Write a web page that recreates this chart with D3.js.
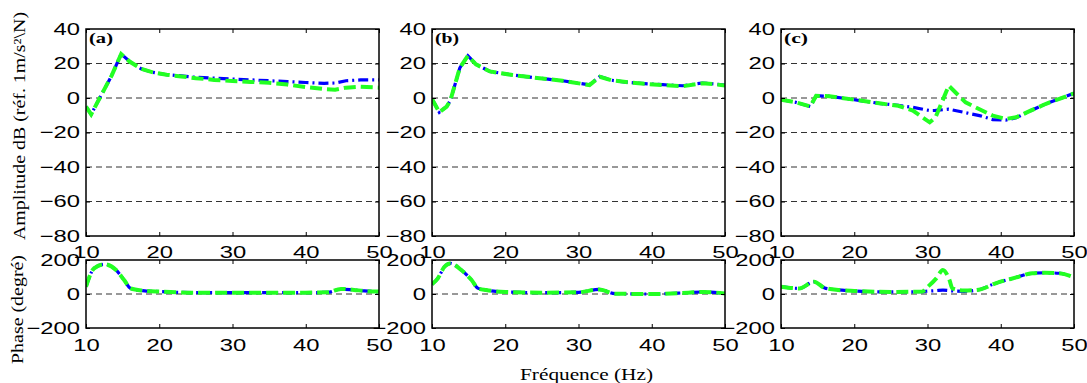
<!DOCTYPE html>
<html><head><meta charset="utf-8">
<script src="https://cdn.jsdelivr.net/npm/d3@7"></script>
<style>
html,body{margin:0;padding:0;background:#fff;}
svg{display:block;}
</style></head>
<body>
<svg id="chart" width="1087" height="383"></svg>
<script>
// ---------- DATA ----------
const panelLabels = ["(a)", "(b)", "(c)"];
const xTicks = [10, 20, 30, 40, 50];
const ampTicks = [40, 20, 0, -20, -40, -60, -80];
const ampGrid = [20, 0, -20, -40, -60];
const phaseTicks = [200, 0, -200];
const phaseGrid = [0];

// Panel (a) amplitude
const freqAmpA = [10, 10.7, 11.5, 12.5, 13.5, 14.8, 16, 17.5, 19, 21, 23, 25, 27.5, 30, 32.5, 35, 37.5, 40, 42.5, 44, 45.5, 47.5, 50];
const ampA_blue = [-5, -9.5, -3, 5, 13, 25.5, 21, 17, 15, 13.5, 12.8, 12, 11.5, 11, 10.5, 10, 9.5, 9, 8.5, 8.7, 10, 10.5, 10.5];
const ampA_green = [-5, -9.5, -3, 5, 13, 25.5, 21, 17, 15, 13.5, 12.5, 11.5, 10.5, 9.8, 9.3, 8.8, 7.8, 6.3, 5.2, 4.8, 6, 6.5, 6];
// Panel (b) amplitude
const freqAmpB = [10, 11, 12, 12.5, 13.8, 14.9, 16, 17.9, 21, 24, 27.8, 31.5, 32.9, 34.5, 36.9, 39, 41.5, 44.2, 46.9, 48.5, 50];
const ampB_blue = [-0.6, -8.3, -5, -1.5, 17.5, 24.5, 19.5, 15.4, 13.3, 11.8, 10, 7.7, 12.5, 10.3, 9, 8.3, 7.7, 7.1, 8.7, 8.2, 7.5];
const ampB_green = [-0.6, -8.3, -5, -1.5, 17.5, 24.5, 19.5, 15.4, 13.3, 11.8, 10, 7.5, 12.3, 10.3, 9, 8.2, 7.5, 6.8, 8.5, 8, 7.2];
// Panel (c) amplitude
const freqAmpC = [10, 12, 14, 14.8, 16.6, 20, 23.4, 26, 28, 30.3, 31.1, 32.9, 35.2, 37.1, 38.9, 40.7, 42.1, 44, 46.1, 48, 50];
const ampC_blue = [-1, -2.5, -4.9, 1.3, 1, -1, -3.1, -4.3, -5.4, -7.3, -7.2, -6.5, -8.5, -10.2, -12.5, -12.8, -11.5, -7.5, -3.5, -0.5, 2.7];
const ampC_green = [-1, -2.5, -4.9, 1.3, 1, -1, -3.1, -4.5, -7.3, -14.1, -11.2, 7.1, -2.5, -6.5, -10.2, -12.1, -11.2, -7.5, -3.5, -0.5, 2.7];

// Panel (a) phase
const freqPhA = [10, 11.1, 12.5, 14.1, 15.2, 16.1, 17.7, 20.2, 25, 30, 35, 40, 43, 44.8, 46.6, 48, 50];
const phA_blue = [43, 151, 175, 141, 82, 33, 20, 14, 8, 8, 8, 8, 10, 29, 23, 18, 12];
const phA_green = [43, 151, 175, 141, 82, 33, 20, 14, 8, 8, 8, 8, 10, 30, 24, 18, 14];
// Panel (b) phase
const freqPhB = [10, 10.8, 11.7, 12.5, 14, 15.4, 16.3, 17.4, 20, 25, 30, 32.8, 35, 40, 45, 47, 50];
const phB_blue = [57, 92, 160, 180, 141, 82, 33, 23, 12, 8, 10, 27, 2, 0, 8, 12, 3];
const phB_green = [57, 92, 160, 180, 141, 82, 33, 23, 12, 8, 10, 27, 2, 0, 8, 12, 3];
// Panel (c) phase
const freqPhC = [10, 12.5, 14.5, 16.1, 20, 25, 29.3, 29.8, 31.2, 32.1, 33, 33.4, 35, 37, 39.3, 42, 44.3, 46, 48, 50];
const phC_blue = [43, 33, 72, 33, 18, 12, 14, 16, 20, 23, 20, 18, 16, 25, 63, 96, 122, 125, 122, 98];
const phC_green = [43, 33, 72, 33, 18, 12, 14, 33, 92, 141, 82, 33, 20, 25, 63, 96, 122, 125, 122, 98];

const ampFreqs = [freqAmpA, freqAmpB, freqAmpC];
const ampBlue = [ampA_blue, ampB_blue, ampC_blue];
const ampGreen = [ampA_green, ampB_green, ampC_green];
const phFreqs = [freqPhA, freqPhB, freqPhC];
const phBlue = [phA_blue, phB_blue, phC_blue];
const phGreen = [phA_green, phB_green, phC_green];

// ---------- LAYOUT ----------
const svg = d3.select("#chart");
svg.append("rect").attr("width", 1087).attr("height", 383).attr("fill", "#fff");
const panelLeft = [86, 432, 781];
const panelW = 293;
const ampTop = 29, ampBottom = 236;
const phTop = 260, phBottom = 328;
const SX = 1.4; // horizontal stretch of tick labels
const tickFont = "'Liberation Sans', Arial, sans-serif";
const serif = "'Liberation Serif', 'Times New Roman', serif";

const yAmp = d3.scaleLinear().domain([-80, 40]).range([ampBottom, ampTop]);
const yPh = d3.scaleLinear().domain([-200, 200]).range([phBottom, phTop]);

const defs = svg.append("defs");

function drawPlot(g, x, y, top, bottom, yTickVals, gridVals, freqs, blue, green, curve, clipId, xLabPad) {
  const left = x.range()[0], right = x.range()[1];
  defs.append("clipPath").attr("id", clipId)
    .append("rect").attr("x", left).attr("y", top).attr("width", right - left).attr("height", bottom - top);

  // grid
  g.selectAll(null).data(gridVals).enter().append("line")
    .attr("x1", left).attr("x2", right)
    .attr("y1", d => y(d)).attr("y2", d => y(d))
    .attr("stroke", "#333").attr("stroke-width", 1).attr("stroke-dasharray", "6,4");

  // lines
  const line = d3.line().x(d => x(d[0])).y(d => y(d[1])).curve(curve);
  const lg = g.append("g").attr("clip-path", `url(#${clipId})`);
  lg.append("path").datum(freqs.map((f, i) => [f, blue[i]]))
    .attr("d", line).attr("fill", "none").attr("stroke", "#0000ff")
    .attr("stroke-width", 3.2).attr("stroke-dasharray", "10,4,2,4");
  lg.append("path").datum(freqs.map((f, i) => [f, green[i]]))
    .attr("d", line).attr("fill", "none").attr("stroke", "#22ff22")
    .attr("stroke-width", 4).attr("stroke-dasharray", "12,5");

  // axes
  const ax = g.append("g").attr("transform", `translate(${left},0)`)
    .call(d3.axisLeft(y).tickValues(yTickVals).tickSize(-4).tickPadding(6).tickFormat(d3.format("d")));
  ax.select(".domain").remove();
  ax.selectAll("line").attr("stroke", "#000");
  ax.selectAll("text").attr("x", -6 / SX).attr("transform", `scale(${SX},1)`)
    .attr("font-family", tickFont).attr("font-size", 17).attr("fill", "#000");

  const axr = g.append("g").attr("transform", `translate(${right},0)`)
    .call(d3.axisRight(y).tickValues(yTickVals).tickSize(-4).tickFormat(""));
  axr.select(".domain").remove();
  axr.selectAll("line").attr("stroke", "#000");

  const axb = g.append("g").attr("transform", `translate(0,${bottom})`)
    .call(d3.axisBottom(x).tickValues(xTicks).tickSize(-4).tickPadding(xLabPad).tickFormat(d3.format("d")));
  axb.select(".domain").remove();
  axb.selectAll("line").attr("stroke", "#000");
  axb.selectAll("text").attr("transform", `scale(${SX},1)`)
    .attr("font-family", tickFont).attr("font-size", 17).attr("fill", "#000");

  const axt = g.append("g").attr("transform", `translate(0,${top})`)
    .call(d3.axisTop(x).tickValues(xTicks).tickSize(-4).tickFormat(""));
  axt.select(".domain").remove();
  axt.selectAll("line").attr("stroke", "#000");

  // frame
  g.append("rect").attr("x", left).attr("y", top).attr("width", right - left).attr("height", bottom - top)
    .attr("fill", "none").attr("stroke", "#000").attr("stroke-width", 1.5);
}

panelLeft.forEach((L, i) => {
  const x = d3.scaleLinear().domain([10, 50]).range([L, L + panelW]);
  const g = svg.append("g");
  drawPlot(g, x, yAmp, ampTop, ampBottom, ampTicks, ampGrid,
    ampFreqs[i], ampBlue[i], ampGreen[i], d3.curveLinear, "clipA" + i, 10);
  drawPlot(g, x, yPh, phTop, phBottom, phaseTicks, phaseGrid,
    phFreqs[i], phBlue[i], phGreen[i], d3.curveMonotoneX, "clipP" + i, 11);

  g.append("text").attr("x", L + 3).attr("y", ampTop + 14)
    .attr("font-family", serif).attr("font-weight", "bold").attr("font-size", 15)
    .attr("textLength", 24).attr("lengthAdjust", "spacingAndGlyphs")
    .text(panelLabels[i]);
});

// axis titles
svg.append("text").attr("transform", "translate(25,126) rotate(-90)")
  .attr("text-anchor", "middle").attr("font-family", serif).attr("font-size", 16)
  .attr("textLength", 228).attr("lengthAdjust", "spacingAndGlyphs")
  .text("Amplitude  dB  (réf. 1m/s²\\N)");
svg.append("text").attr("transform", "translate(23,309.5) rotate(-90)")
  .attr("text-anchor", "middle").attr("font-family", serif).attr("font-size", 16)
  .attr("textLength", 109).attr("lengthAdjust", "spacingAndGlyphs")
  .text("Phase (degré)");
svg.append("text").attr("x", 586.5).attr("y", 380)
  .attr("text-anchor", "middle").attr("font-family", serif).attr("font-size", 16)
  .attr("textLength", 133).attr("lengthAdjust", "spacingAndGlyphs")
  .text("Fréquence (Hz)");
</script>
</body></html>
